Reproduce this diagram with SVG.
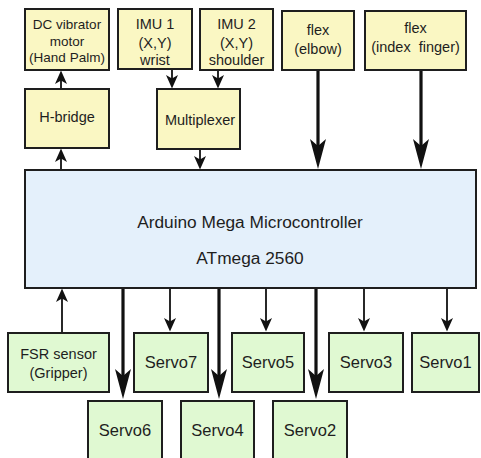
<svg xmlns="http://www.w3.org/2000/svg" width="481" height="458" viewBox="0 0 481 458">
<style>
text{font-family:"Liberation Sans",Arial,sans-serif;fill:#1e1e1e;text-anchor:middle;white-space:pre}
.y{fill:#FAF7C3;stroke:#1e1e1e;stroke-width:2}
.g{fill:#E0F9D2;stroke:#1e1e1e;stroke-width:2}
.b{fill:#E4F0FB;stroke:#1e1e1e;stroke-width:2}
.s{font-size:13.5px}
.m{font-size:14.5px}
.v{font-size:16.5px}
.big{font-size:17.3px}
.thin{stroke:#111;stroke-width:1.8;fill:none;marker-end:url(#ah)}
.thick{stroke:#111;stroke-width:3.2;fill:none;marker-end:url(#ahb)}
</style>
<defs>
<marker id="ah" markerUnits="userSpaceOnUse" viewBox="0 -7 15 14" markerWidth="15" markerHeight="14" refX="10" refY="0" orient="auto">
<path d="M0,-6 L13.5,0 L0,6 L3.5,0 Z" fill="#111"/>
</marker>
<marker id="ahb" markerUnits="userSpaceOnUse" viewBox="0 -9 32 18" markerWidth="32" markerHeight="18" refX="22" refY="0" orient="auto">
<path d="M0,-8 L30,0 L0,8 L7,0 Z" fill="#111"/>
</marker>
</defs>
<g id="connectors">
<line class="thin" x1="61" y1="89" x2="61" y2="74"/>
<line class="thin" x1="61" y1="170" x2="61" y2="152"/>
<line class="thin" x1="172" y1="69" x2="172" y2="85"/>
<line class="thin" x1="218" y1="70" x2="218" y2="85"/>
<line class="thin" x1="200" y1="149" x2="200" y2="166"/>
<line class="thick" x1="318" y1="70" x2="318" y2="161"/>
<line class="thick" x1="421" y1="70" x2="421" y2="161"/>
<line class="thin" x1="62" y1="333" x2="62" y2="292"/>
<line class="thick" x1="123" y1="288" x2="123" y2="391"/>
<line class="thin" x1="170" y1="288" x2="170" y2="328"/>
<line class="thick" x1="219" y1="288" x2="219" y2="391"/>
<line class="thin" x1="266" y1="288" x2="266" y2="328"/>
<line class="thick" x1="316" y1="288" x2="316" y2="391"/>
<line class="thin" x1="364" y1="288" x2="364" y2="328"/>
<line class="thin" x1="447" y1="288" x2="447" y2="328"/>
</g>
<g id="dc-motor"><rect class="y" x="25" y="9" width="84" height="61"/>
<text class="s" x="67" y="29">DC vibrator</text><text class="s" x="67" y="46">motor</text><text class="s" x="67" y="62">(Hand Palm)</text></g>
<g id="imu1"><rect class="y" x="118" y="9" width="74" height="60"/>
<text class="m" x="155" y="29">IMU 1</text><text class="m" x="155" y="48">(X,Y)</text><text class="m" x="155" y="65">wrist</text></g>
<g id="imu2"><rect class="y" x="200" y="9" width="73" height="61"/>
<text class="m" x="236.5" y="29">IMU 2</text><text class="m" x="236.5" y="48">(X,Y)</text><text class="m" x="236.5" y="65">shoulder</text></g>
<g id="flex-elbow"><rect class="y" x="282" y="11" width="72" height="59"/>
<text class="m" x="318" y="35">flex</text><text class="m" x="318" y="54">(elbow)</text></g>
<g id="flex-index"><rect class="y" x="365" y="11" width="101" height="59"/>
<text class="m" x="415.5" y="33">flex</text><text class="m" x="415.5" y="52">(index  finger)</text></g>
<g id="h-bridge"><rect class="y" x="25" y="89" width="84" height="59"/>
<text class="m" x="67" y="122">H-bridge</text></g>
<g id="multiplexer"><rect class="y" x="157" y="89" width="83" height="60"/>
<text class="m" x="200" y="125">Multiplexer</text></g>
<g id="arduino"><rect class="b" x="25" y="170" width="451" height="118"/>
<text class="big" x="250" y="228">Arduino Mega Microcontroller</text><text class="big" x="250" y="264">ATmega 2560</text></g>
<g id="fsr"><rect class="g" x="8" y="333" width="101" height="59"/>
<text class="m" x="58.5" y="359">FSR sensor</text><text class="m" x="58.5" y="378">(Gripper)</text></g>
<g id="servo7"><rect class="g" x="134" y="333" width="74" height="59"/><text class="v" x="171" y="368">Servo7</text></g>
<g id="servo5"><rect class="g" x="232" y="333" width="72" height="59"/><text class="v" x="268" y="368">Servo5</text></g>
<g id="servo3"><rect class="g" x="329" y="333" width="74" height="59"/><text class="v" x="366" y="368">Servo3</text></g>
<g id="servo1"><rect class="g" x="412" y="333" width="67" height="59"/><text class="v" x="445.5" y="368">Servo1</text></g>
<g id="servo6"><rect class="g" x="88" y="401" width="74" height="62"/><text class="v" x="125" y="436">Servo6</text></g>
<g id="servo4"><rect class="g" x="181" y="401" width="73" height="62"/><text class="v" x="217.5" y="436">Servo4</text></g>
<g id="servo2"><rect class="g" x="273" y="401" width="74" height="62"/><text class="v" x="310" y="436">Servo2</text></g>
</svg>
